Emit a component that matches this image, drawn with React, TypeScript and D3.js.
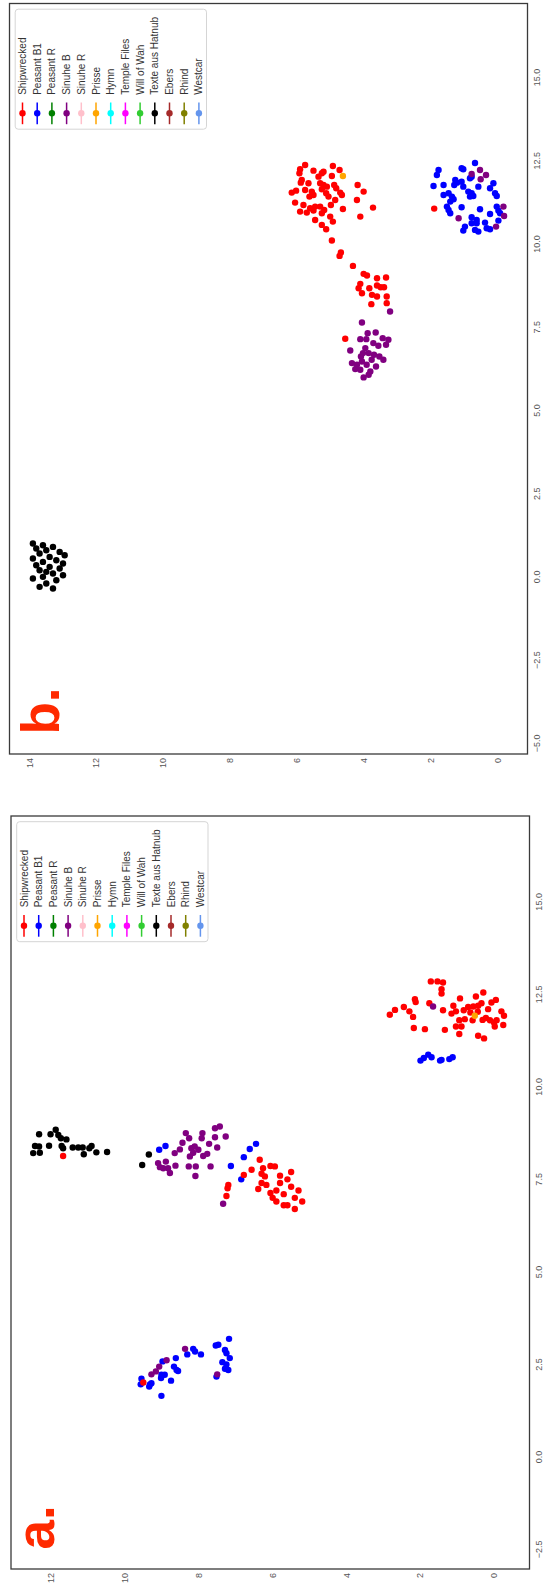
import React from "react";
import * as d3 from "d3";

type Pt = [number, number]; // [x, y]

const legendLabels = [
  "Shipwrecked", "Peasant B1", "Peasant R", "Sinuhe B", "Sinuhe R", "Prisse", "Hymn",
  "Temple Files", "Will of Wah", "Texte aus Hatnub", "Ebers", "Rhind", "Westcar",
];
const legendColors = [
  "#ff0000", "#0000ff", "#008000", "#800080", "#ffc0cb", "#ffa500", "#00ffff",
  "#ff00ff", "#32cd32", "#000000", "#a52a2a", "#808000", "#6495ed",
];

// ---- panel a ----
const aHatnub: Pt[] = [
  [8.72, 12.32], [8.72, 12.01], [8.84, 11.87], [8.70, 11.80], [8.61, 11.73], [8.58, 11.58],
  [8.40, 12.43], [8.39, 12.32], [8.21, 12.48], [8.22, 12.30], [8.41, 12.05], [8.40, 11.71],
  [8.34, 11.67], [8.36, 11.41], [8.36, 11.26], [8.36, 11.14], [8.34, 10.96], [8.40, 10.90],
  [8.18, 11.11], [8.23, 10.77], [8.24, 10.48], [8.17, 9.35], [7.89, 9.53],
];
const aShipwrecked: Pt[] = [
  [8.13, 11.67], [8.03, 6.35], [7.62, 6.78], [7.76, 6.57], [7.80, 6.26], [7.86, 6.06], [7.85, 5.94],
  [7.65, 6.30], [7.58, 6.21], [7.40, 6.30], [7.35, 6.17], [7.24, 6.39], [7.35, 7.20], [7.26, 7.22],
  [7.05, 7.25], [7.13, 6.06], [7.20, 5.90], [7.60, 5.80], [7.50, 5.60], [7.30, 5.50], [7.10, 5.70],
  [7.00, 5.40], [6.80, 5.60], [6.90, 5.90], [7.20, 5.30], [7.70, 5.50], [7.40, 5.80], [6.90, 5.20],
  [7.00, 6.00], [6.70, 5.40], [6.80, 5.70],
  [2.01, 9.50],
  [12.85, 1.72], [12.85, 1.54], [12.82, 1.39], [12.64, 1.43], [12.52, 1.43], [12.16, 2.45],
  [12.04, 2.30], [12.37, 2.15], [12.29, 2.13], [11.89, 2.20], [12.26, 1.76], [11.59, 2.18],
  [11.56, 1.88], [12.07, 1.39], [11.54, 1.34], [12.19, 1.11], [11.98, 1.16], [12.39, 0.93],
  [12.04, 1.04], [11.80, 0.95], [11.63, 1.04], [11.63, 0.89], [11.43, 0.95], [12.07, 0.83],
  [11.83, 0.80], [12.01, 0.65], [12.16, 0.71], [12.17, 0.57], [12.44, 0.50], [12.26, 0.35],
  [12.55, 0.30], [12.19, 0.44], [11.80, 0.59], [11.38, 0.44], [11.31, 0.28], [12.10, 0.17],
  [12.28, 0.08], [12.35, -0.04], [11.81, 0.32], [11.86, 0.23], [11.80, 0.12], [11.74, 0.01],
  [11.63, -0.01], [11.80, -0.06], [12.04, -0.19], [11.92, -0.26], [11.67, -0.24], [12.03, 0.45],
  [12.08, 2.69], [11.95, 2.83],
];
const aPeasantB1: Pt[] = [
  [8.30, 9.07], [8.40, 8.90], [7.86, 7.13], [8.10, 6.78], [8.32, 6.62], [8.46, 6.45], [7.50, 6.85],
  [3.19, 7.18], [3.01, 7.54], [3.03, 7.47], [2.89, 7.29], [2.80, 7.25], [2.67, 7.16], [2.56, 7.36],
  [2.50, 7.25], [2.38, 7.29], [2.35, 7.20], [2.17, 7.52], [2.92, 8.15], [2.77, 8.31], [2.85, 8.10],
  [2.77, 7.94], [2.67, 8.62], [2.44, 8.67], [2.35, 8.60], [2.32, 8.56], [2.58, 8.98], [2.22, 9.01],
  [2.22, 8.92], [2.13, 9.02], [2.06, 8.75], [2.11, 9.55], [1.96, 9.57], [1.96, 9.32], [1.99, 9.28],
  [1.90, 9.34], [1.65, 9.01],
  [10.71, 2.00], [10.78, 1.91], [10.87, 1.79], [10.80, 1.70], [10.71, 1.47], [10.73, 1.43],
  [10.75, 1.22], [10.80, 1.13],
];
const aSinuheB: Pt[] = [
  [8.75, 8.35], [8.61, 8.26], [8.75, 7.90], [8.61, 7.92], [8.88, 7.56], [8.93, 7.43], [8.66, 7.27],
  [8.64, 7.56], [8.49, 8.44], [8.31, 8.51], [8.21, 8.65], [8.34, 8.20], [8.39, 8.11], [8.30, 8.01],
  [8.22, 8.15], [8.12, 8.24], [8.13, 7.88], [8.19, 7.77], [8.46, 7.72], [8.36, 7.50], [7.94, 9.10],
  [7.83, 9.05], [7.98, 8.89], [7.80, 8.83], [7.67, 8.78], [7.87, 8.63], [7.85, 8.27], [7.85, 8.08],
  [7.59, 8.09], [7.85, 7.68], [7.80, 8.96], [6.84, 7.34],
  [2.92, 8.37], [2.61, 8.87], [2.44, 9.07], [2.31, 9.16], [2.23, 9.28], [2.23, 7.50],
  [12.17, 1.66],
];
const aPrisse: Pt[] = [[11.92, 0.53]];

// ---- panel b ----
const bHatnub: Pt[] = [
  [1.0, 13.9], [0.95, 13.6], [0.9, 13.3], [0.85, 13.8], [0.8, 13.5], [0.75, 13.1], [0.7, 13.7],
  [0.6, 13.4], [0.55, 13.9], [0.5, 13.2], [0.45, 13.6], [0.4, 13.0], [0.35, 13.8], [0.3, 13.4],
  [0.25, 13.1], [0.2, 13.7], [0.15, 13.5], [0.1, 13.3], [0.0, 13.6], [-0.05, 13.9], [-0.1, 13.2],
  [0.05, 13.0], [-0.2, 13.5], [-0.3, 13.7], [-0.35, 13.3], [0.65, 12.95],
];
const bShipwrecked: Pt[] = [
  [12.37, 5.76], [12.24, 5.91], [12.12, 5.93], [12.20, 5.51], [12.34, 4.93], [12.22, 4.73],
  [12.17, 5.21], [12.12, 5.26], [12.02, 5.36], [12.04, 4.96], [11.92, 5.86], [11.84, 5.89],
  [11.82, 5.66], [11.82, 5.31], [11.77, 5.21], [11.72, 5.11], [11.77, 4.89], [11.67, 4.83],
  [11.62, 5.76], [11.57, 5.56], [11.54, 6.16], [11.60, 6.03], [11.47, 5.51], [11.42, 5.63],
  [11.64, 5.26], [11.52, 5.13], [11.42, 5.06], [11.54, 4.71], [11.47, 4.66], [11.32, 4.86],
  [11.24, 6.06], [11.17, 5.81], [11.07, 5.61], [11.12, 5.46], [11.12, 5.31], [11.02, 5.19],
  [11.17, 4.99], [10.97, 5.91], [10.94, 5.71], [11.00, 5.51], [10.92, 5.26], [10.82, 5.01],
  [10.67, 4.93], [10.72, 5.46], [10.57, 5.26], [10.44, 5.13], [11.05, 4.63], [11.77, 4.19],
  [11.57, 4.01], [11.32, 4.21], [11.09, 3.73], [10.82, 4.11],
  [10.10, 4.96], [9.74, 4.69], [9.64, 4.73], [9.34, 4.33],
  [9.10, 4.01], [9.05, 3.91], [8.97, 3.61], [8.99, 3.34], [8.80, 4.11], [8.67, 4.16], [8.52, 4.06],
  [8.67, 3.84], [8.75, 3.61], [8.70, 3.50], [8.70, 3.40], [8.47, 3.76], [8.42, 3.61], [8.42, 3.32],
  [8.22, 3.32], [8.19, 3.78],
  [7.15, 4.56], [11.06, 1.90],
];
const bPeasantB1: Pt[] = [
  [12.43, 0.68], [12.27, 1.08], [12.24, 1.03], [12.22, 1.77], [12.07, 1.82], [12.02, 0.78],
  [11.97, 0.83], [11.92, 1.27], [11.84, 1.22], [11.87, 1.08], [11.77, 1.62], [11.74, 1.92],
  [11.77, 1.30], [11.72, 1.03], [11.82, 0.13], [11.67, 0.23], [11.52, 0.08], [11.44, 0.03],
  [11.72, 0.58], [11.47, 1.62], [11.52, 1.47], [11.42, 1.37], [11.34, 1.32], [11.27, 1.42],
  [11.57, 0.88], [11.52, 0.78], [11.42, 0.83], [11.44, 0.73], [11.12, 1.52], [11.02, 1.47],
  [10.92, 1.42], [11.10, 1.08], [11.04, 0.53], [10.90, 0.23], [11.12, 0.03], [11.00, -0.02],
  [10.92, -0.07], [10.80, 0.78], [10.72, 0.63], [10.62, 0.78], [10.62, 0.63], [10.64, 0.38],
  [10.47, 0.33], [10.44, 0.23], [10.52, 0.98], [10.40, 1.03], [10.42, 0.68], [10.37, 0.58],
  [10.70, -0.02],
];
const bSinuheB: Pt[] = [
  [12.10, 0.78], [12.22, 0.53], [12.07, 0.35], [11.94, 0.51], [11.12, -0.17], [10.84, -0.19],
  [10.52, 0.05], [10.77, 1.17],
  [7.97, 3.22], [7.64, 4.06], [7.32, 3.89], [7.34, 3.65], [7.14, 4.11], [7.14, 3.93], [7.17, 3.44],
  [7.12, 3.27], [6.80, 4.41], [7.02, 3.72], [6.94, 3.57], [6.97, 3.34], [6.87, 3.96], [6.72, 4.03],
  [6.72, 3.86], [6.62, 4.09], [6.67, 3.70], [6.62, 3.54], [6.52, 3.42], [6.52, 3.77], [6.42, 4.36],
  [6.37, 4.21], [6.47, 4.06], [6.37, 3.92], [6.32, 3.64], [6.24, 4.26], [6.22, 4.11], [6.17, 3.81],
  [6.07, 3.86], [5.99, 4.01],
];
const bPrisse: Pt[] = [[12.04, 4.63]];

const xTicksA = [-2.5, 0, 2.5, 5, 7.5, 10, 12.5, 15];
const yTicksA = [0, 2, 4, 6, 8, 10, 12];
const xTicksB = [-5, -2.5, 0, 2.5, 5, 7.5, 10, 12.5, 15];
const yTicksB = [0, 2, 4, 6, 8, 10, 12, 14];

const FONT = "'Liberation Sans', Arial, Helvetica, sans-serif";
const colorOf = (name: string) => legendColors[legendLabels.indexOf(name)];

interface Series { name: string; pts: Pt[] }

interface PanelProps {
  tx: number; ty: number; W: number; H: number;
  xDomain: [number, number]; yDomain: [number, number];
  xTicks: number[]; yTicks: number[];
  series: Series[]; tag: string; tagBaseline: number;
}

// Each panel is laid out as an ordinary x/y scatter and then turned a quarter turn
// counter-clockwise, so the x axis runs up the page and the y axis runs right-to-left.
function Panel({ tx, ty, W, H, xDomain, yDomain, xTicks, yTicks, series, tag, tagBaseline }: PanelProps) {
  const x = d3.scaleLinear().domain(xDomain).range([0, W]);
  const y = d3.scaleLinear().domain(yDomain).range([H, 0]);
  const fx = d3.format(".1f");
  const fy = d3.format("d");
  const lgLeft = W - 125.7;
  return (
    <g transform={`translate(${tx},${ty}) rotate(-90)`}>
      <rect x={0} y={0} width={W} height={H} fill="#fff" />
      {series.map((s) => (
        <g key={s.name} fill={colorOf(s.name)}>
          {s.pts.map((p, i) => (
            <circle key={i} cx={x(p[0])} cy={y(p[1])} r={3.2} />
          ))}
        </g>
      ))}
      <rect x={0} y={0} width={W} height={H} fill="none" stroke="#3a3a3a" strokeWidth={1.3} />
      {xTicks.map((t) => (
        <text key={`x${t}`} x={x(t)} y={H + 12.5} textAnchor="middle" fontSize={9}
          fontFamily={FONT} fill="#555">{fx(t)}</text>
      ))}
      {yTicks.map((t) => (
        <text key={`y${t}`} x={-4} y={y(t)} textAnchor="end" dominantBaseline="central"
          fontSize={9} fontFamily={FONT} fill="#555">{fy(t)}</text>
      ))}
      <text x={19.5} y={tagBaseline} fontSize={53} fontWeight="bold" fontFamily={FONT}
        fill="#ff2a00">{tag}</text>
      <g>
        <rect x={lgLeft} y={5.7} width={120} height={191.3} rx={3} fill="#fff"
          fillOpacity={0.85} stroke="#d0d0d0" strokeWidth={0.9} />
        {legendLabels.map((lab, i) => {
          const cy = 13 + i * 14.7;
          return (
            <g key={lab}>
              <line x1={lgLeft + 5} x2={lgLeft + 26.7} y1={cy} y2={cy}
                stroke={legendColors[i]} strokeWidth={1.5} />
              <circle cx={lgLeft + 15.9} cy={cy} r={3.2} fill={legendColors[i]} />
              <text x={lgLeft + 34.4} y={cy} dominantBaseline="central" fontSize={10}
                fontFamily={FONT} fill="#333">{lab}</text>
            </g>
          );
        })}
      </g>
    </g>
  );
}

export default function App() {
  const seriesA: Series[] = [
    { name: "Peasant B1", pts: aPeasantB1 },
    { name: "Texte aus Hatnub", pts: aHatnub },
    { name: "Shipwrecked", pts: aShipwrecked },
    { name: "Sinuhe B", pts: aSinuheB },
    { name: "Prisse", pts: aPrisse },
  ];
  const seriesB: Series[] = [
    { name: "Peasant B1", pts: bPeasantB1 },
    { name: "Texte aus Hatnub", pts: bHatnub },
    { name: "Shipwrecked", pts: bShipwrecked },
    { name: "Sinuhe B", pts: bSinuheB },
    { name: "Prisse", pts: bPrisse },
  ];
  return (
    <svg width={543} height={1584} viewBox="0 0 543 1584"
      style={{ position: "absolute", left: 0, top: 0, background: "#fff", display: "block" }}>
      <rect x={0} y={0} width={543} height={1584} fill="#fff" />
      <Panel tx={9.5} ty={754} W={750.5} H={518}
        xDomain={[-5.32, 17.22]} yDomain={[-0.89, 14.6]}
        xTicks={xTicksB} yTicks={yTicksB} series={seriesB} tag="b." tagBaseline={49.4} />
      <Panel tx={11} ty={1569} W={753} H={518.5}
        xDomain={[-3.03, 17.32]} yDomain={[-0.95, 13.08]}
        xTicks={xTicksA} yTicks={yTicksA} series={seriesA} tag="a." tagBaseline={43} />
    </svg>
  );
}
